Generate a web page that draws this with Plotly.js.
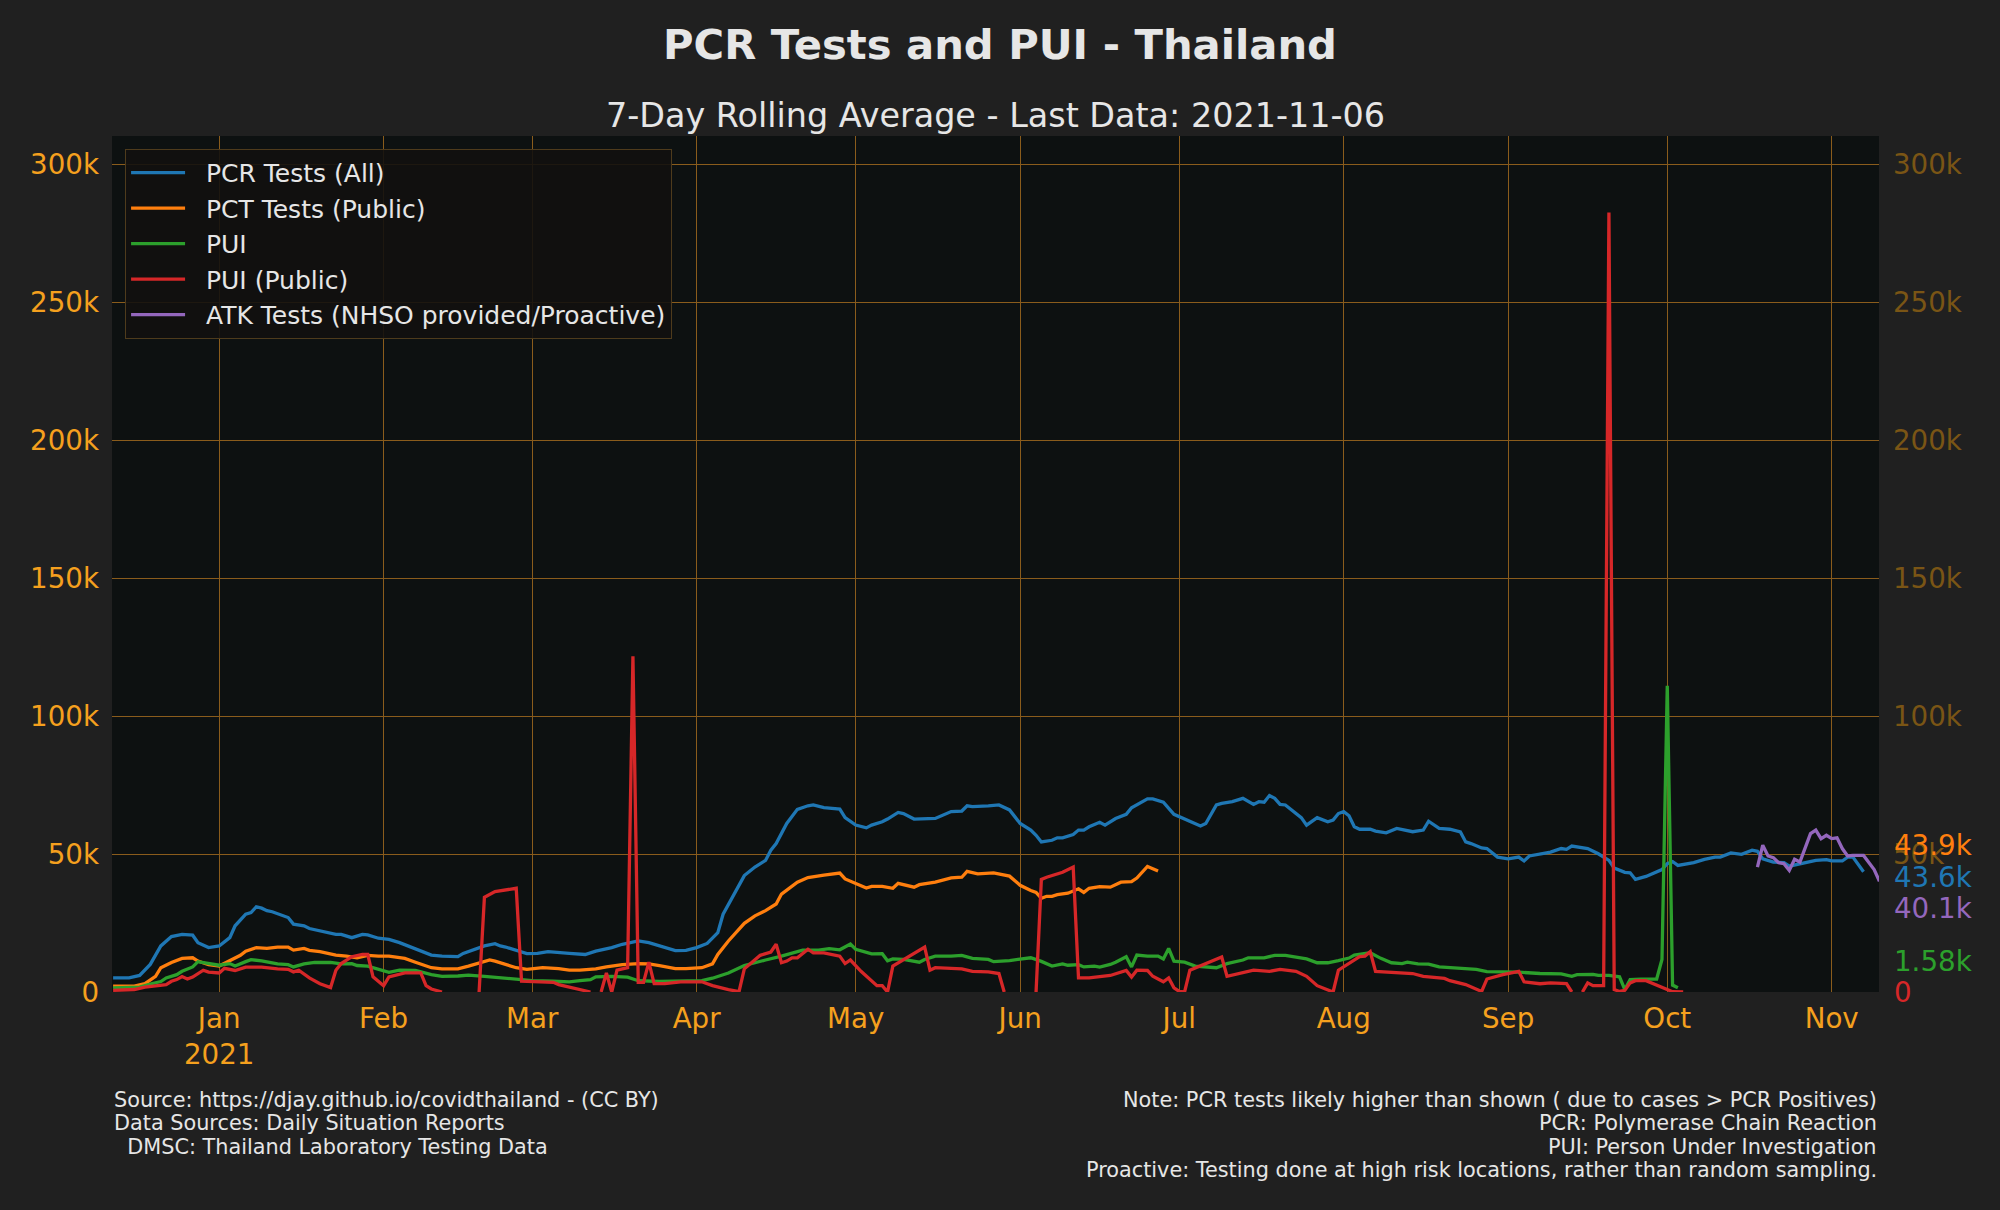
<!DOCTYPE html>
<html><head><meta charset="utf-8">
<script src="https://cdn.plot.ly/plotly-3.0.1.min.js"></script>
<style>html,body{margin:0;padding:0;background:#202020;}#chart{width:2000px;height:1210px;}</style>
</head><body><div id="chart"></div>
<script>
// ---- DATA (7-day rolling averages) ----
const pcrDates = ['2020-12-12','2020-12-15','2020-12-17','2020-12-19','2020-12-21','2020-12-23','2020-12-25','2020-12-27','2020-12-28','2020-12-30','2021-01-01','2021-01-03','2021-01-04','2021-01-06','2021-01-07','2021-01-08','2021-01-09','2021-01-10','2021-01-11','2021-01-14','2021-01-15','2021-01-17','2021-01-18','2021-01-21','2021-01-23','2021-01-24','2021-01-26','2021-01-28','2021-01-29','2021-01-31','2021-02-02','2021-02-04','2021-02-08','2021-02-10','2021-02-12','2021-02-15','2021-02-16','2021-02-18','2021-02-20','2021-02-22','2021-02-23','2021-02-24','2021-02-26','2021-02-28','2021-03-02','2021-03-04','2021-03-08','2021-03-11','2021-03-13','2021-03-16','2021-03-18','2021-03-21','2021-03-23','2021-03-26','2021-03-28','2021-03-30','2021-04-01','2021-04-03','2021-04-05','2021-04-06','2021-04-08','2021-04-10','2021-04-12','2021-04-14','2021-04-15','2021-04-16','2021-04-18','2021-04-20','2021-04-22','2021-04-23','2021-04-25','2021-04-28','2021-04-29','2021-05-01','2021-05-03','2021-05-04','2021-05-06','2021-05-07','2021-05-09','2021-05-10','2021-05-12','2021-05-14','2021-05-16','2021-05-19','2021-05-21','2021-05-22','2021-05-23','2021-05-26','2021-05-28','2021-05-30','2021-06-01','2021-06-03','2021-06-04','2021-06-05','2021-06-07','2021-06-08','2021-06-09','2021-06-11','2021-06-12','2021-06-13','2021-06-14','2021-06-16','2021-06-17','2021-06-19','2021-06-21','2021-06-22','2021-06-23','2021-06-25','2021-06-26','2021-06-28','2021-06-30','2021-07-01','2021-07-03','2021-07-05','2021-07-06','2021-07-08','2021-07-09','2021-07-11','2021-07-13','2021-07-15','2021-07-16','2021-07-17','2021-07-18','2021-07-19','2021-07-20','2021-07-21','2021-07-24','2021-07-25','2021-07-27','2021-07-29','2021-07-30','2021-07-31','2021-08-01','2021-08-02','2021-08-03','2021-08-04','2021-08-06','2021-08-07','2021-08-09','2021-08-11','2021-08-14','2021-08-16','2021-08-17','2021-08-19','2021-08-21','2021-08-23','2021-08-24','2021-08-25','2021-08-27','2021-08-28','2021-08-30','2021-09-01','2021-09-03','2021-09-04','2021-09-05','2021-09-07','2021-09-09','2021-09-11','2021-09-12','2021-09-13','2021-09-15','2021-09-16','2021-09-18','2021-09-20','2021-09-21','2021-09-23','2021-09-24','2021-09-25','2021-09-27','2021-09-28','2021-09-30','2021-10-01','2021-10-02','2021-10-03','2021-10-06','2021-10-08','2021-10-10','2021-10-11','2021-10-13','2021-10-15','2021-10-17','2021-10-18','2021-10-19','2021-10-21','2021-10-23','2021-10-24','2021-10-26','2021-10-28','2021-10-29','2021-10-31','2021-11-01','2021-11-03','2021-11-04','2021-11-05','2021-11-06','2021-11-07'];
const pcrValues = [5100,5100,6000,10000,16700,20100,20900,20600,17900,16100,16700,19700,24000,28200,28800,30900,30400,29500,29100,27000,24600,24000,23000,21800,20900,20900,19700,20900,20700,19500,19100,17900,15100,13400,13000,12800,14000,15200,16700,17500,16700,16300,15200,13900,14000,14600,14000,13600,14800,16100,17300,18500,17900,16300,15000,15100,16100,17600,21500,28200,35500,42200,45300,47700,51400,53800,61100,66200,67500,67800,66800,66300,63200,60500,59500,60500,61700,62700,65100,64700,62700,62900,62900,65400,65600,67500,67200,67500,67800,66000,61100,58700,56800,54400,55000,55900,55900,57100,58700,58700,59900,61500,60500,62900,64400,66800,67800,70000,70000,68800,64400,63500,61900,60200,61100,67800,68400,69000,70200,68000,69000,68800,71200,70200,68000,67800,63200,60500,63200,61700,62300,64700,65400,63900,59900,59000,59000,58300,57700,59300,58100,58700,61900,59300,59000,58000,54400,53800,52200,52000,48900,48300,48900,47500,49300,50100,50700,52000,51700,52900,52300,52000,50100,47700,44900,43400,43200,40800,41900,42800,44400,46500,47300,45900,46900,48100,48900,48900,50400,49900,51400,51000,48300,47100,46900,45600,46500,47500,47700,48000,47500,47500,48900,48900,46100,43600];

const pctDates = ['2020-12-12','2020-12-16','2020-12-18','2020-12-20','2020-12-21','2020-12-23','2020-12-25','2020-12-27','2020-12-28','2020-12-30','2021-01-01','2021-01-03','2021-01-05','2021-01-06','2021-01-08','2021-01-10','2021-01-12','2021-01-14','2021-01-15','2021-01-17','2021-01-18','2021-01-20','2021-01-23','2021-01-25','2021-01-27','2021-01-29','2021-01-31','2021-02-02','2021-02-05','2021-02-07','2021-02-10','2021-02-12','2021-02-15','2021-02-17','2021-02-19','2021-02-21','2021-02-22','2021-02-24','2021-02-26','2021-02-28','2021-03-03','2021-03-06','2021-03-08','2021-03-10','2021-03-13','2021-03-15','2021-03-18','2021-03-21','2021-03-23','2021-03-25','2021-03-28','2021-03-30','2021-04-02','2021-04-04','2021-04-05','2021-04-07','2021-04-10','2021-04-12','2021-04-14','2021-04-16','2021-04-17','2021-04-20','2021-04-22','2021-04-25','2021-04-28','2021-04-29','2021-05-01','2021-05-03','2021-05-04','2021-05-06','2021-05-08','2021-05-09','2021-05-12','2021-05-13','2021-05-16','2021-05-19','2021-05-21','2021-05-22','2021-05-24','2021-05-27','2021-05-30','2021-06-01','2021-06-03','2021-06-04','2021-06-05','2021-06-06','2021-06-07','2021-06-08','2021-06-10','2021-06-12','2021-06-13','2021-06-14','2021-06-16','2021-06-18','2021-06-20','2021-06-22','2021-06-23','2021-06-25','2021-06-27'];
const pctValues = [2100,2100,3000,5700,8800,10700,12200,12400,11200,9900,9400,11200,13300,14800,16100,15800,16300,16300,15200,15800,15100,14600,13400,13000,12400,13300,13000,13000,12200,10800,8800,8400,8400,9400,10600,11600,11200,10000,8800,8200,8800,8500,7900,7900,8400,9100,9900,10300,10200,9600,8500,8500,8800,10200,13600,18500,24900,27600,29500,31900,35500,39800,41500,42400,43100,41000,39200,37700,38300,38300,37600,39400,38000,38900,39800,41400,41600,43700,42800,43200,42000,38700,36800,36100,34000,34700,34700,35300,35800,37400,36100,37600,38200,38000,39800,40000,41300,45500,43900];

const puiDates = ['2020-12-12','2020-12-17','2020-12-19','2020-12-21','2020-12-22','2020-12-24','2020-12-25','2020-12-26','2020-12-27','2020-12-28','2020-12-30','2021-01-01','2021-01-03','2021-01-04','2021-01-06','2021-01-07','2021-01-09','2021-01-12','2021-01-14','2021-01-15','2021-01-17','2021-01-19','2021-01-22','2021-01-24','2021-01-26','2021-01-27','2021-01-29','2021-01-31','2021-02-02','2021-02-04','2021-02-07','2021-02-10','2021-02-12','2021-02-15','2021-02-17','2021-02-20','2021-02-22','2021-02-25','2021-03-01','2021-03-05','2021-03-08','2021-03-10','2021-03-12','2021-03-13','2021-03-16','2021-03-19','2021-03-21','2021-03-25','2021-03-28','2021-04-02','2021-04-04','2021-04-07','2021-04-10','2021-04-12','2021-04-14','2021-04-17','2021-04-19','2021-04-21','2021-04-24','2021-04-26','2021-04-28','2021-04-30','2021-05-01','2021-05-03','2021-05-04','2021-05-06','2021-05-07','2021-05-08','2021-05-10','2021-05-13','2021-05-14','2021-05-16','2021-05-19','2021-05-21','2021-05-23','2021-05-26','2021-05-27','2021-05-30','2021-06-01','2021-06-03','2021-06-05','2021-06-07','2021-06-09','2021-06-10','2021-06-12','2021-06-13','2021-06-15','2021-06-16','2021-06-18','2021-06-19','2021-06-21','2021-06-22','2021-06-23','2021-06-25','2021-06-27','2021-06-28','2021-06-29','2021-06-30','2021-07-02','2021-07-04','2021-07-08','2021-07-10','2021-07-13','2021-07-14','2021-07-17','2021-07-19','2021-07-21','2021-07-23','2021-07-25','2021-07-27','2021-07-29','2021-07-31','2021-08-02','2021-08-03','2021-08-06','2021-08-08','2021-08-10','2021-08-12','2021-08-13','2021-08-15','2021-08-17','2021-08-19','2021-08-21','2021-08-24','2021-08-26','2021-08-28','2021-08-30','2021-09-03','2021-09-07','2021-09-09','2021-09-11','2021-09-13','2021-09-14','2021-09-17','2021-09-18','2021-09-20','2021-09-22','2021-09-23','2021-09-24','2021-09-26','2021-09-29','2021-09-30','2021-10-01','2021-10-02','2021-10-03'];
const puiValues = [1500,1800,2900,3800,5100,6300,7500,8200,9100,11000,10200,9700,10300,9400,11000,11700,11300,10200,9900,9100,10200,10700,10700,10200,10300,9600,9400,8400,7100,7900,7800,6300,5700,5800,6100,5700,5400,4700,4100,3900,3700,4100,4500,5500,5700,5400,4100,3800,4000,4100,5000,6900,9600,10700,11600,13000,14000,15200,15200,15700,15300,17400,15500,14200,13800,13900,11300,12000,11800,10800,11800,13000,13000,13300,12200,11800,11000,11400,11800,12400,11100,9400,10200,9700,9900,9100,9400,9000,10000,10800,12800,9100,13400,13000,13000,12000,15800,11200,10800,9400,8800,10300,11600,12400,12400,13300,13300,12800,12000,10600,10600,11400,12300,13400,14200,12200,10600,10300,10800,10200,10100,9100,8800,8400,8200,7400,7400,7200,6700,6600,6600,5700,6300,6400,6000,6000,5500,900,4500,4700,4700,11800,111000,2500,1580];

const puiPubDates = ['2020-12-12','2020-12-16','2020-12-18','2020-12-20','2020-12-22','2020-12-23','2020-12-24','2020-12-25','2020-12-26','2020-12-27','2020-12-29','2020-12-30','2021-01-01','2021-01-02','2021-01-04','2021-01-06','2021-01-09','2021-01-12','2021-01-14','2021-01-15','2021-01-16','2021-01-18','2021-01-20','2021-01-22','2021-01-23','2021-01-24','2021-01-26','2021-01-28','2021-01-29','2021-01-30','2021-02-01','2021-02-02','2021-02-05','2021-02-08','2021-02-09','2021-02-10','2021-02-12','2021-02-15','2021-02-19','2021-02-20','2021-02-22','2021-02-26','2021-02-27','2021-03-01','2021-03-05','2021-03-06','2021-03-09','2021-03-12','2021-03-13','2021-03-14','2021-03-15','2021-03-16','2021-03-17','2021-03-19','2021-03-20','2021-03-21','2021-03-22','2021-03-23','2021-03-24','2021-03-26','2021-03-29','2021-04-02','2021-04-04','2021-04-07','2021-04-09','2021-04-10','2021-04-11','2021-04-13','2021-04-15','2021-04-16','2021-04-17','2021-04-18','2021-04-19','2021-04-20','2021-04-22','2021-04-23','2021-04-25','2021-04-28','2021-04-29','2021-04-30','2021-05-02','2021-05-05','2021-05-06','2021-05-07','2021-05-08','2021-05-14','2021-05-15','2021-05-16','2021-05-21','2021-05-23','2021-05-26','2021-05-28','2021-05-29','2021-05-31','2021-06-04','2021-06-05','2021-06-06','2021-06-09','2021-06-11','2021-06-12','2021-06-14','2021-06-18','2021-06-21','2021-06-22','2021-06-23','2021-06-25','2021-06-26','2021-06-28','2021-06-29','2021-06-30','2021-07-01','2021-07-02','2021-07-03','2021-07-09','2021-07-10','2021-07-13','2021-07-15','2021-07-18','2021-07-20','2021-07-23','2021-07-25','2021-07-27','2021-07-29','2021-07-30','2021-07-31','2021-08-04','2021-08-05','2021-08-06','2021-08-07','2021-08-09','2021-08-12','2021-08-14','2021-08-16','2021-08-20','2021-08-21','2021-08-24','2021-08-27','2021-08-28','2021-08-31','2021-09-03','2021-09-04','2021-09-07','2021-09-09','2021-09-12','2021-09-13','2021-09-14','2021-09-15','2021-09-16','2021-09-17','2021-09-19','2021-09-20','2021-09-21','2021-09-22','2021-09-23','2021-09-24','2021-09-25','2021-09-27','2021-10-01','2021-10-02','2021-10-04','2021-10-06'];
const puiPubValues = [600,900,1800,2300,2700,3900,4500,5600,4700,5400,7900,7200,6900,8600,7800,9000,9000,8400,8200,7300,7900,5100,3000,1600,7900,10300,12800,13600,13600,5500,2300,5500,6900,6900,2300,1100,0,null,0,34300,36400,37600,3900,3700,3500,2700,1500,0,null,0,6900,0,7900,8800,121700,3500,3500,10800,3000,3000,3700,3700,2300,900,100,8400,10000,13300,14500,17300,10600,11200,12400,12400,15500,14200,14200,13000,10300,11600,7500,2300,2300,0,9400,16300,7900,8800,8400,7500,7300,6700,0,null,0,40800,41600,43400,45300,5100,5100,6000,7800,5400,7900,7800,5700,3700,5100,1500,200,0,7900,12700,5700,7200,7900,7500,8200,7500,5700,2300,900,0,7900,12800,13000,14600,7500,7300,6900,6700,5700,4900,4100,2700,200,4700,6300,7500,3700,3000,3300,3000,0,null,0,3300,2300,2300,282600,900,200,600,3300,4100,4100,900,100,0];

const atkDates = ['2021-10-18','2021-10-19','2021-10-20','2021-10-21','2021-10-22','2021-10-23','2021-10-24','2021-10-25','2021-10-26','2021-10-27','2021-10-28','2021-10-29','2021-10-30','2021-10-31','2021-11-01','2021-11-02','2021-11-03','2021-11-04','2021-11-05','2021-11-07','2021-11-09','2021-11-10'];
const atkValues = [45300,53200,49300,48700,46900,46500,44100,48100,47100,52000,57400,58700,55600,56800,55600,55900,52000,49300,49500,49500,44400,40100];

const seriesNames = ['PCR Tests (All)','PCT Tests (Public)','PUI','PUI (Public)','ATK Tests (NHSO provided/Proactive)'];
const monthTickDates = ['2021-01-01','2021-02-01','2021-03-01','2021-04-01','2021-05-01','2021-06-01','2021-07-01','2021-08-01','2021-09-01','2021-10-01','2021-11-01'];
const monthTickLabels = ['Jan<br>2021','Feb','Mar','Apr','May','Jun','Jul','Aug','Sep','Oct','Nov'];
const yTickValues = [0,50000,100000,150000,200000,250000,300000];
const yTickLabels = ['0','50k','100k','150k','200k','250k','300k'];
const titleText = 'PCR Tests and PUI - Thailand';
const subtitleText = '7-Day Rolling Average - Last Data: 2021-11-06';
const footerLeft = ['Source: https://djay.github.io/covidthailand - (CC BY)','Data Sources: Daily Situation Reports','\u00a0\u00a0DMSC: Thailand Laboratory Testing Data'];
const footerRight = ['Note: PCR tests likely higher than shown ( due to cases > PCR Positives)','PCR: Polymerase Chain Reaction','PUI: Person Under Investigation','Proactive: Testing done at high risk locations, rather than random sampling.'];

// ---- STYLE ----
const FONT = 'DejaVu Sans, Verdana, sans-serif';
const colors = ['#1f77b4','#ff7f0e','#2ca02c','#d62728','#9467bd'];
const tickOrange = '#f5a01e';
const tickDim = '#7a5515';
const gridCol = '#8a5c1c';
const textCol = '#e6e6e6';
const legendGap = '\u00a0\u00a0';

const seriesX = [pcrDates, pctDates, puiDates, puiPubDates, atkDates];
const seriesY = [pcrValues, pctValues, puiValues, puiPubValues, atkValues];

const traces = seriesNames.map((n, i) => ({
  type: 'scatter', mode: 'lines', name: legendGap + n,
  x: seriesX[i], y: seriesY[i],
  line: {color: colors[i], width: 3.3},
  connectgaps: false, hoverinfo: 'skip',
  yaxis: i === 4 ? 'y2' : 'y'
}));

function lastVal(arr) { for (let k = arr.length - 1; k >= 0; k--) if (arr[k] !== null) return arr[k]; return 0; }
function fmtK(v) { return v === 0 ? '0' : (v / 1000).toPrecision(3) + 'k'; }

// label order / offsets so labels do not overlap (orange, blue, purple, green, red)
const labelOrder = [1, 0, 4, 2, 3];
const labelShift = [25, -6, -27, 26, 0];

const Y_MAX = 310300;
const plotTop = 136, plotBottom = 992, plotH = plotBottom - plotTop;

const annotations = [];
annotations.push({text: subtitleText, xref: 'paper', yref: 'paper', x: 0.5, y: 1 + 20 / plotH,
  xanchor: 'center', yanchor: 'middle', showarrow: false, font: {family: FONT, size: 33.4, color: textCol}});
labelOrder.forEach((si, k) => {
  const v = lastVal(seriesY[si]);
  annotations.push({text: fmtK(v), xref: 'paper', yref: 'y', x: 1, y: v, xanchor: 'left', yanchor: 'middle',
    xshift: 13, yshift: labelShift[k], showarrow: false, font: {family: FONT, size: 27.7, color: colors[si]}});
});
const footY0 = 1099.5, footStep = 23.5;
footerLeft.forEach((t, k) => annotations.push({text: t, xref: 'paper', yref: 'paper', x: 0,
  y: (plotBottom - (footY0 + k * footStep)) / plotH, xanchor: 'left', yanchor: 'middle', showarrow: false,
  font: {family: FONT, size: 20.8, color: textCol}}));
footerRight.forEach((t, k) => annotations.push({text: t, xref: 'paper', yref: 'paper', x: 1,
  y: (plotBottom - (footY0 + k * footStep)) / plotH, xanchor: 'right', yanchor: 'middle', align: 'right', showarrow: false,
  font: {family: FONT, size: 20.8, color: textCol}}));

const layout = {
  width: 2000, height: 1210,
  paper_bgcolor: '#202020', plot_bgcolor: '#0d1111',
  margin: {l: 112, r: 121, t: plotTop, b: 1210 - plotBottom, pad: 0},
  font: {family: FONT, color: textCol},
  title: {text: titleText, xref: 'container', yref: 'container', x: 0.5, y: 1 - 44.6 / 1210,
    xanchor: 'center', yanchor: 'middle', font: {family: FONT, size: 41.7, color: textCol, weight: 'bold'}},
  showlegend: true,
  legend: {x: 0.0074, y: 0.985, xanchor: 'left', yanchor: 'top', bgcolor: 'rgba(18,17,16,0.9)',
    bordercolor: '#4e3b1c', borderwidth: 1, itemwidth: 54,
    font: {family: FONT, size: 25, color: textCol}},
  xaxis: {type: 'date', range: ['2020-12-11 19:00', '2021-11-09 22:00'],
    tickmode: 'array', tickvals: monthTickDates, ticktext: monthTickLabels,
    showgrid: true, gridcolor: gridCol, gridwidth: 1, zeroline: false, showline: false,
    ticks: '', ticklabelstandoff: 7, tickfont: {family: FONT, size: 27.7, color: tickOrange}},
  yaxis: {range: [0, Y_MAX], tickmode: 'array', tickvals: yTickValues, ticktext: yTickLabels,
    showgrid: true, gridcolor: gridCol, gridwidth: 1, zeroline: false, showline: false,
    ticks: '', ticklabelstandoff: 12, tickfont: {family: FONT, size: 27.7, color: tickOrange}},
  yaxis2: {overlaying: 'y', side: 'right', range: [0, Y_MAX], tickmode: 'array',
    tickvals: yTickValues.slice(1), ticktext: yTickLabels.slice(1),
    showgrid: false, zeroline: false, showline: false, ticks: '', ticklabelstandoff: 13,
    tickfont: {family: FONT, size: 27.7, color: tickDim}},
  annotations: annotations
};

Plotly.newPlot('chart', traces, layout, {displayModeBar: false, staticPlot: true});
</script></body></html>
